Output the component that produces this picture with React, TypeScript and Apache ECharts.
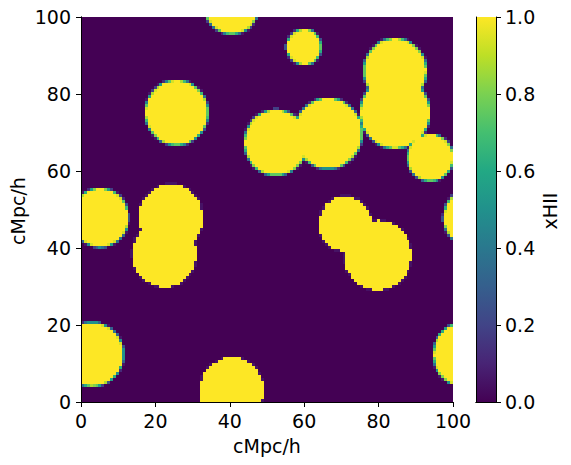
import React, { useEffect, useRef } from "react";
import * as echarts from "echarts";

// ---- data ----
const GRID_N = 128; // cells per side
const BOX_SIZE = 100; // cMpc/h
const xTicks = [0, 20, 40, 60, 80, 100];
const yTicks = [0, 20, 40, 60, 80, 100];
const colorbarTicks = [0.0, 0.2, 0.4, 0.6, 0.8, 1.0];

// ionized bubbles (centre x, centre y, radius in cMpc/h; soft = partially ionized rim)
const bubbleX = [40.6, 40.5, 25.7, 60.0, 84.4, 84.4, 66.4, 52.4, 93.9, 5.1, 105.1, 24.2, 22.5, 71.0, 79.8, 3.0, 103.0];
const bubbleY = [3.0, 103.0, 75.1, 92.2, 86.0, 75.1, 69.7, 67.3, 63.4, 47.9, 47.9, 47.8, 38.6, 46.3, 38.2, 12.4, 12.4];
const bubbleR = [8.6, 7.5, 8.5, 4.7, 8.5, 9.4, 9.25, 8.6, 6.2, 7.6, 7.6, 8.6, 8.6, 7.0, 9.0, 8.4, 8.4];
const bubbleSoft = [0, 1, 1, 1, 1, 1, 1, 1, 1, 1, 1, 0, 0, 0, 0, 1, 1];

const viridisStops = [
  "#440154", "#482475", "#414487", "#355f8d", "#2a788e", "#21918c",
  "#22a884", "#44bf70", "#7ad151", "#bddf26", "#fde725",
];

function hexToRgb(h: string) {
  return [parseInt(h.slice(1, 3), 16), parseInt(h.slice(3, 5), 16), parseInt(h.slice(5, 7), 16)];
}
function viridis(v: number) {
  const t = Math.max(0, Math.min(1, v)) * (viridisStops.length - 1);
  const i = Math.min(Math.floor(t), viridisStops.length - 2);
  const f = t - i;
  const a = hexToRgb(viridisStops[i]);
  const b = hexToRgb(viridisStops[i + 1]);
  const c = a.map((x, k) => Math.round(x + (b[k] - x) * f));
  return `rgb(${c[0]},${c[1]},${c[2]})`;
}

function buildCells() {
  const h = BOX_SIZE / GRID_N;
  const S = 4;
  const cells: number[][] = [];
  for (let i = 0; i < GRID_N; i++) {
    for (let j = 0; j < GRID_N; j++) {
      const cx = (i + 0.5) * h;
      const cy = (j + 0.5) * h;
      let v = 0;
      for (let b = 0; b < bubbleX.length; b++) {
        const r = bubbleR[b];
        const dx = cx - bubbleX[b];
        const dy = cy - bubbleY[b];
        const d = Math.sqrt(dx * dx + dy * dy);
        if (d > r + h) continue;
        let cov = 1;
        if (d > r - h) {
          let inside = 0;
          for (let a = 0; a < S; a++) {
            for (let c = 0; c < S; c++) {
              const sx = i * h + ((a + 0.5) / S) * h - bubbleX[b];
              const sy = j * h + ((c + 0.5) / S) * h - bubbleY[b];
              if (sx * sx + sy * sy <= r * r) inside++;
            }
          }
          cov = inside / (S * S);
        }
        const val = bubbleSoft[b] ? cov : cov >= 0.5 ? 1 : cov > 0 ? 0.05 : 0;
        if (val > v) v = val;
      }
      if (v > 0.001) cells.push([i * h, j * h, (i + 1) * h, (j + 1) * h, v]);
    }
  }
  return cells;
}

const FONT = "DejaVu Sans";
const FS = 19;

export default function App() {
  const ref = useRef<HTMLDivElement>(null);
  useEffect(() => {
    if (!ref.current) return;
    const chart = echarts.init(ref.current, undefined, { renderer: "svg" });
    const cells = buildCells();
    const gradStops = viridisStops.map((c, k) => ({ offset: k / (viridisStops.length - 1), color: c }));
    const lineOnly = {
      axisLine: { show: true, lineStyle: { color: "#000", width: 1 } },
      axisTick: { show: false },
      axisLabel: { show: false },
      splitLine: { show: false },
      z: 10,
    };
    const tickStyle = {
      axisLine: { show: true, onZero: false, lineStyle: { color: "#000", width: 1 } },
      axisTick: { show: true, length: 5, lineStyle: { color: "#000", width: 1 } },
      splitLine: { show: false },
      z: 10,
    };
    const labelFont = { color: "#000", fontSize: FS, fontFamily: FONT };
    chart.setOption({
      animation: false,
      grid: [
        { left: 81, top: 17, width: 372, height: 385, show: true, backgroundColor: viridisStops[0], borderWidth: 0 },
        { left: 476, top: 17, width: 20, height: 385, show: false },
      ],
      xAxis: [
        {
          type: "value", gridIndex: 0, position: "bottom", min: xTicks[0], max: xTicks[xTicks.length - 1], interval: 20,
          ...tickStyle,
          axisLabel: { show: true, margin: 9, ...labelFont },
        },
        { type: "value", gridIndex: 0, position: "top", min: 0, max: 100, ...lineOnly },
        { type: "value", gridIndex: 1, position: "bottom", min: 0, max: 1, ...lineOnly },
        { type: "value", gridIndex: 1, position: "top", min: 0, max: 1, ...lineOnly },
      ],
      yAxis: [
        {
          type: "value", gridIndex: 0, position: "left", min: yTicks[0], max: yTicks[yTicks.length - 1], interval: 20,
          ...tickStyle,
          axisLabel: { show: true, margin: 10, ...labelFont },
        },
        { type: "value", gridIndex: 0, position: "right", min: 0, max: 100, ...lineOnly },
        { type: "value", gridIndex: 1, position: "left", min: 0, max: 1, ...lineOnly },
        {
          type: "value", gridIndex: 1, position: "right", min: colorbarTicks[0], max: colorbarTicks[colorbarTicks.length - 1], interval: 0.2,
          ...tickStyle,
          axisLabel: {
            show: true, margin: 9, ...labelFont,
            formatter: (v: number) => v.toFixed(1),
          },
        },
      ],
      series: [
        {
          type: "custom",
          xAxisIndex: 0,
          yAxisIndex: 0,
          silent: true,
          clip: true,
          z: 2,
          encode: { x: [0, 2], y: [1, 3] },
          data: cells,
          renderItem: (_p: any, api: any) => {
            const p0 = api.coord([api.value(0), api.value(3)]);
            const p1 = api.coord([api.value(2), api.value(1)]);
            const x0 = Math.round(p0[0]);
            const y0 = Math.round(p0[1]);
            const x1 = Math.round(p1[0]);
            const y1 = Math.round(p1[1]);
            return {
              type: "rect",
              shape: { x: x0, y: y0, width: x1 - x0, height: y1 - y0 },
              style: { fill: viridis(api.value(4)) },
            };
          },
        },
        {
          type: "custom",
          xAxisIndex: 2,
          yAxisIndex: 3,
          silent: true,
          z: 2,
          encode: { x: [0, 2], y: [1, 3] },
          data: [[0, colorbarTicks[0], 1, colorbarTicks[colorbarTicks.length - 1]]],
          renderItem: (_p: any, api: any) => {
            const p0 = api.coord([api.value(0), api.value(3)]);
            const p1 = api.coord([api.value(2), api.value(1)]);
            return {
              type: "rect",
              shape: { x: p0[0], y: p0[1], width: p1[0] - p0[0], height: p1[1] - p0[1] },
              style: { fill: new echarts.graphic.LinearGradient(0, 1, 0, 0, gradStops) },
            };
          },
        },
      ],
      graphic: [
        {
          type: "text", x: 267, y: 446,
          style: { text: "cMpc/h", fill: "#000", font: `${FS}px "${FONT}"`, align: "center", verticalAlign: "middle" },
        },
        {
          type: "text", x: 18, y: 211, rotation: Math.PI / 2,
          style: { text: "cMpc/h", fill: "#000", font: `${FS}px "${FONT}"`, align: "center", verticalAlign: "middle" },
        },
        {
          type: "text", x: 550, y: 211, rotation: Math.PI / 2,
          style: { text: "xHII", fill: "#000", font: `${FS}px "${FONT}"`, align: "center", verticalAlign: "middle" },
        },
      ],
    });
    return () => chart.dispose();
  }, []);
  return <div ref={ref} style={{ position: "absolute", left: 0, top: 0, width: 571, height: 465 }} />;
}
